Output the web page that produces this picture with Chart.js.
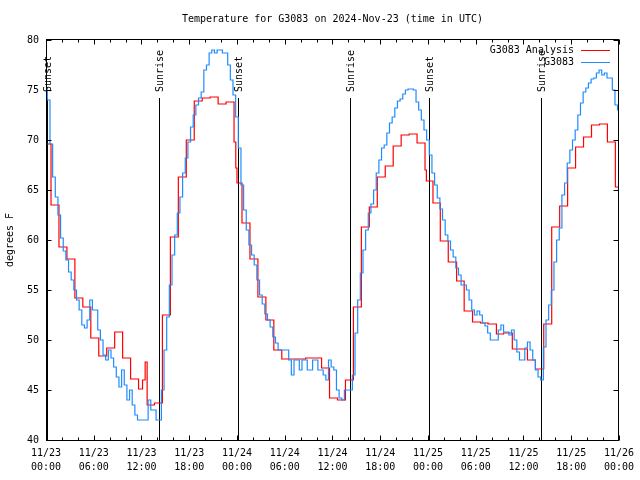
<!DOCTYPE html>
<html>
<head>
<meta charset="utf-8">
<script src="https://cdn.jsdelivr.net/npm/chart.js@4/dist/chart.umd.min.js"></script>
<style>
  html, body { margin: 0; padding: 0; background: #fff; }
  canvas { display: block; }
</style>
</head>
<body>
<canvas id="chart" width="640" height="480"></canvas>
<script>
// ── Data (hours after 11/23 00:00 UTC) ───────────────────
const TITLE = 'Temperature for G3083 on 2024-Nov-23 (time in UTC)';
const Y_TITLE = 'degrees F';
const DAY_LABELS = ['11/23', '11/24', '11/25', '11/26'];

// analysis: value holds from each time until the next one
const redHours = [
  0, 0.63, 1.63, 2.63, 3.63, 4.63, 5.63, 6.63, 7.63, 8.63, 9.63, 10.63,
  11.63, 12.13, 12.46, 12.71, 13.63, 14.63, 15.63, 16.63, 17.63, 18.63, 19.63, 20.63,
  21.63, 22.63, 23.63, 23.85, 24.0, 24.63, 25.63, 26.63, 27.63, 28.63, 29.63, 30.63,
  31.63, 32.63, 33.63, 34.63, 35.63, 36.63, 37.63, 38.63, 39.63, 40.63, 41.63, 42.63,
  43.63, 44.63, 45.63, 46.63, 47.63, 47.8, 48.63, 49.55, 50.55, 51.6, 52.55, 53.6,
  54.6, 55.55, 56.6, 57.5, 58.6, 59.6, 60.5, 61.5, 62.55, 63.55, 64.55, 65.55,
  66.55, 67.55, 68.55, 69.55, 70.55, 71.55, 72
];
const redTemps = [
  69.6, 63.5, 59.3, 58.1, 54.2, 53.3, 50.2, 48.4, 49.2, 50.8, 48.2, 46.1,
  45.1, 46, 47.8, 43.5, 43.7, 52.5, 60.3, 66.3, 70, 73.9, 74.2, 74.3,
  73.6, 73.8, 69.8, 67.2, 65.7, 61.7, 58.1, 54.3, 52, 49, 48.1, 48.1,
  48.1, 48.2, 48.2, 47.2, 44.2, 44.0, 46, 53.3, 61.3, 63.3, 66.3, 67.4,
  69.4, 70.5, 70.6, 69.7, 67, 65.9, 63.7, 59.9, 57.8, 55.9, 52.9, 51.8,
  51.7, 51.6, 50.6, 50.7, 49.1, 49.1, 48.0, 47.1, 51.6, 61.3, 63.4, 67.2,
  69.3, 70.3, 71.5, 71.6, 69.8, 65.3, 65.3
];

// station obs, one reading every 20 minutes from 00:00
const BLUE_STEP_HOURS = 1 / 3;
const blueTemps = [
  75, 74, 69.6, 66.3, 64.3, 62.5, 60.2, 58.9, 58, 56.8, 56, 55,
  54, 53, 51.5, 51.2, 52, 54, 53, 53, 51, 50, 48.5, 48,
  49, 48.2, 47.3, 46.3, 45.3, 47, 45.5, 44, 45, 43.5, 42.5, 42,
  42, 42, 42, 44, 43, 43, 42, 42, 45, 49, 52.3, 55.5,
  58.5, 60.5, 62.7, 64.3, 66.7, 68.2, 69.8, 71.3, 72.5, 73.5, 74.2, 74.8,
  77, 77.5, 78.7, 79, 78.7, 79, 79, 78.7, 78.7, 77.5, 76, 74.5,
  72.3, 69.2, 65.5, 63, 61, 59.5, 58.5, 57.5, 56, 54.5, 53.6, 52.6,
  52, 51.3, 50.3, 49.7, 49, 49, 49, 49, 48, 46.5, 48, 48,
  47, 48, 48, 47, 47, 48, 48, 47, 47, 46.5, 46, 48,
  47.3, 47, 45, 44.2, 44, 45, 45, 45, 46.5, 50.7, 54, 56.7,
  59, 61, 62.7, 63.6, 65, 66.7, 68, 69.2, 69.5, 70.7, 71.7, 72.3,
  73.2, 73.9, 74.1, 74.6, 75, 75.1, 75.1, 75, 73.8, 73, 72, 71,
  70, 68.5, 66.7, 65.5, 64.2, 63.1, 62, 60.5, 59.9, 59, 58.3, 57.2,
  56.5, 55.5, 55.5, 55, 54, 53, 52.5, 52.9, 52.5, 51.7, 51.4, 50.7,
  50, 50, 50, 51, 51.5, 50.8, 50.8, 50.5, 51, 50, 48.8, 48,
  48, 49.2, 49.8, 49, 48, 47, 46.3, 46, 49.3, 52, 53.5, 55,
  57.8, 60, 61.2, 64.5, 65.7, 67.7, 69, 70, 71, 72.5, 73.7, 74.8,
  75.2, 75.7, 76.1, 76.2, 76.7, 77, 76.5, 76.7, 76.2, 76.2, 75, 73.5,
  73
];

const eventHours = [0.15, 14.15, 24.15, 38.15, 48.15, 62.15];
const eventNames = ['Sunset', 'Sunrise', 'Sunset', 'Sunrise', 'Sunset', 'Sunrise'];

const FONT = '"DejaVu Sans Mono", "Liberation Mono", monospace';
const RED = '#ff0000';
const BLUE = '#1e8cff';

const pad2 = n => String(n).padStart(2, '0');

// ── Decorations: frame, inward ticks, sun events, legend, titles ──
const gnuplotLook = {
  id: 'gnuplotLook',
  beforeDatasetsDraw(chart) {
    const { ctx, chartArea: a, scales: { x } } = chart;
    ctx.save();
    ctx.strokeStyle = '#000';
    ctx.lineWidth = 1;
    ctx.fillStyle = '#000';
    ctx.font = `10px ${FONT}`;
    eventHours.forEach((h, i) => {
      const px = Math.round(x.getPixelForValue(h)) + 0.5;
      ctx.beginPath();
      ctx.moveTo(px, 98);
      ctx.lineTo(px, a.bottom);
      ctx.stroke();
      ctx.save();
      ctx.translate(px + 1, 92);
      ctx.rotate(-Math.PI / 2);
      ctx.textAlign = 'left';
      ctx.textBaseline = 'middle';
      ctx.fillText(eventNames[i], 0, 0);
      ctx.restore();
    });
    ctx.restore();
  },
  afterDraw(chart) {
    const { ctx, chartArea: a, scales: { x, y } } = chart;
    const L = Math.round(a.left) + 0.5, R = Math.round(a.right) - 0.5;
    const T = Math.round(a.top) - 0.5, B = Math.round(a.bottom) + 0.5;
    ctx.save();
    ctx.strokeStyle = '#000';
    ctx.lineWidth = 1;
    ctx.strokeRect(L, T, R - L, B - T);

    ctx.beginPath();
    for (let h = 0; h <= 72; h += 2) {
      const px = Math.round(x.getPixelForValue(h)) + 0.5;
      const len = h % 6 === 0 ? 5 : 3;
      ctx.moveTo(px, B); ctx.lineTo(px, B - len);
      ctx.moveTo(px, T); ctx.lineTo(px, T + len);
    }
    for (let v = 40; v <= 80; v += 5) {
      const py = Math.round(y.getPixelForValue(v)) + 0.5;
      ctx.moveTo(L, py); ctx.lineTo(L + 5, py);
      ctx.moveTo(R, py); ctx.lineTo(R - 5, py);
    }
    ctx.stroke();

    ctx.fillStyle = '#000';
    ctx.font = `10px ${FONT}`;
    ctx.textBaseline = 'middle';
    ctx.textAlign = 'center';
    ctx.fillText(TITLE, (a.left + a.right) / 2, 19);

    ctx.save();
    ctx.translate(10, (a.top + a.bottom) / 2);
    ctx.rotate(-Math.PI / 2);
    ctx.fillText(Y_TITLE, 0, 0);
    ctx.restore();

    // legend
    chart.data.datasets.forEach((ds, i) => {
      const ly = 50 + i * 12;
      ctx.textAlign = 'right';
      ctx.fillStyle = '#000';
      ctx.fillText(ds.label, 574, ly);
      ctx.strokeStyle = ds.borderColor;
      ctx.beginPath();
      ctx.moveTo(581, ly + 0.5);
      ctx.lineTo(610, ly + 0.5);
      ctx.stroke();
    });
    ctx.restore();
  }
};

new Chart(document.getElementById('chart').getContext('2d'), {
  type: 'line',
  data: {
    datasets: [
      {
        label: 'G3083 Analysis',
        data: redHours.map((h, i) => ({ x: h, y: redTemps[i] })),
        borderColor: RED,
        borderWidth: 1.2,
        stepped: 'before',
        pointRadius: 0,
        fill: false,
        order: 1,
      },
      {
        label: 'G3083',
        data: blueTemps.map((t, i) => ({ x: i * BLUE_STEP_HOURS, y: t })),
        borderColor: BLUE,
        borderWidth: 1.2,
        stepped: 'middle',
        pointRadius: 0,
        fill: false,
        order: 0,
      },
    ],
  },
  options: {
    responsive: false,
    animation: false,
    layout: { padding: { top: 40, right: 18, left: 0, bottom: 0 } },
    plugins: { legend: { display: false }, tooltip: { enabled: false } },
    scales: {
      x: {
        type: 'linear',
        min: 0,
        max: 72,
        afterFit(s) { s.height = 40; },
        grid: { display: false, drawTicks: false },
        border: { display: false },
        ticks: {
          stepSize: 6,
          autoSkip: false,
          maxRotation: 0,
          padding: 6,
          color: '#000',
          font: { family: FONT, size: 10, lineHeight: 1.4 },
          callback: v => [DAY_LABELS[Math.floor(v / 24)], pad2(v % 24) + ':00'],
        },
      },
      y: {
        min: 40,
        max: 80,
        afterFit(s) { s.width = 46; },
        grid: { display: false, drawTicks: false },
        border: { display: false },
        ticks: {
          stepSize: 5,
          padding: 7,
          color: '#000',
          font: { family: FONT, size: 10 },
        },
      },
    },
  },
  plugins: [gnuplotLook],
});
</script>
</body>
</html>
